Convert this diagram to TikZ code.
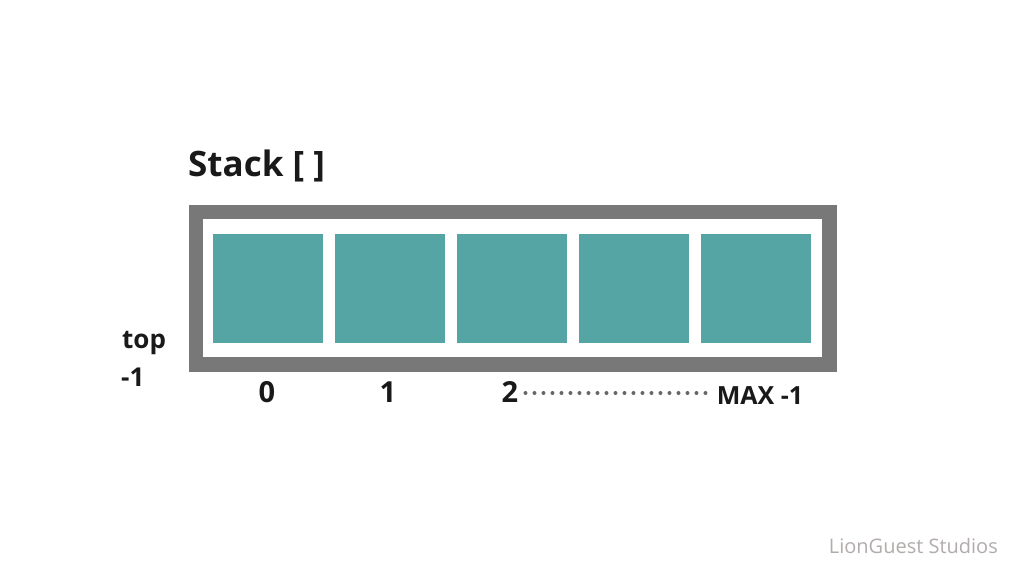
\documentclass[tikz,border=0pt]{standalone}
\usepackage{fontspec}
\setmainfont{Open Sans}
\usetikzlibrary{positioning}

\definecolor{framegray}{HTML}{787878}
\definecolor{cellteal}{HTML}{56A5A5}
\definecolor{markgray}{HTML}{B2ACAC}
\definecolor{dotgray}{HTML}{666666}

\begin{document}
\begin{tikzpicture}[x=1pt, y=-1pt,
    cell/.style={fill=cellteal, draw=none, minimum width=110pt, minimum height=109pt, inner sep=0pt},
    idx/.style={anchor=base, inner sep=0pt, font=\fontsize{29}{32}\selectfont\bfseries, text=black!90},
    side/.style={anchor=base west, inner sep=0pt, font=\fontsize{26}{30}\selectfont\bfseries, text=black!90}
  ]
      \useasboundingbox[fill=white] (0, 0) rectangle (1024, 578);
      % title
      \node[anchor=base west, inner sep=0pt, font=\fontsize{35}{40}\selectfont\bfseries, text=black!90] (title) at (188, 176) {Stack [ ]};
      % frame of the array
      \draw[framegray, line width=14.5pt] (196, 212) rectangle (829.5, 364.5);
      \foreach \i/\cx in {0/268, 1/390, 2/512, 3/634, 4/756}
        \node[cell] (c\i) at (\cx, 288.5) {};
      % indices
      \node[idx] (n0) at (267, 402) {0};
      \node[idx] (n1) at (388, 402) {1};
      \node[idx] (n2) at (510, 402) {2};
      \node[idx, font=\fontsize{25}{28}\selectfont\bfseries] (nmax) at (760, 404) {MAX -1};
      \draw[dotgray, line width=4pt, line cap=round, dash pattern=on 0pt off 9pt, shorten <=7pt, shorten >=8pt]
        (n2.east |- 0, 393) coordinate (dotl) -- (nmax.west |- 0, 393) coordinate (dotr);
      % top pointer
      \node[side] (top) at (122, 348) {top};
      \node[side] (topval) at (121, 386) {-1};
      % watermark
      \node[anchor=base east, inner sep=0pt, font=\fontsize{20}{22}\selectfont, text=markgray] (mark) at (998, 553) {LionGuest Studios};
\end{tikzpicture}
\end{document}
